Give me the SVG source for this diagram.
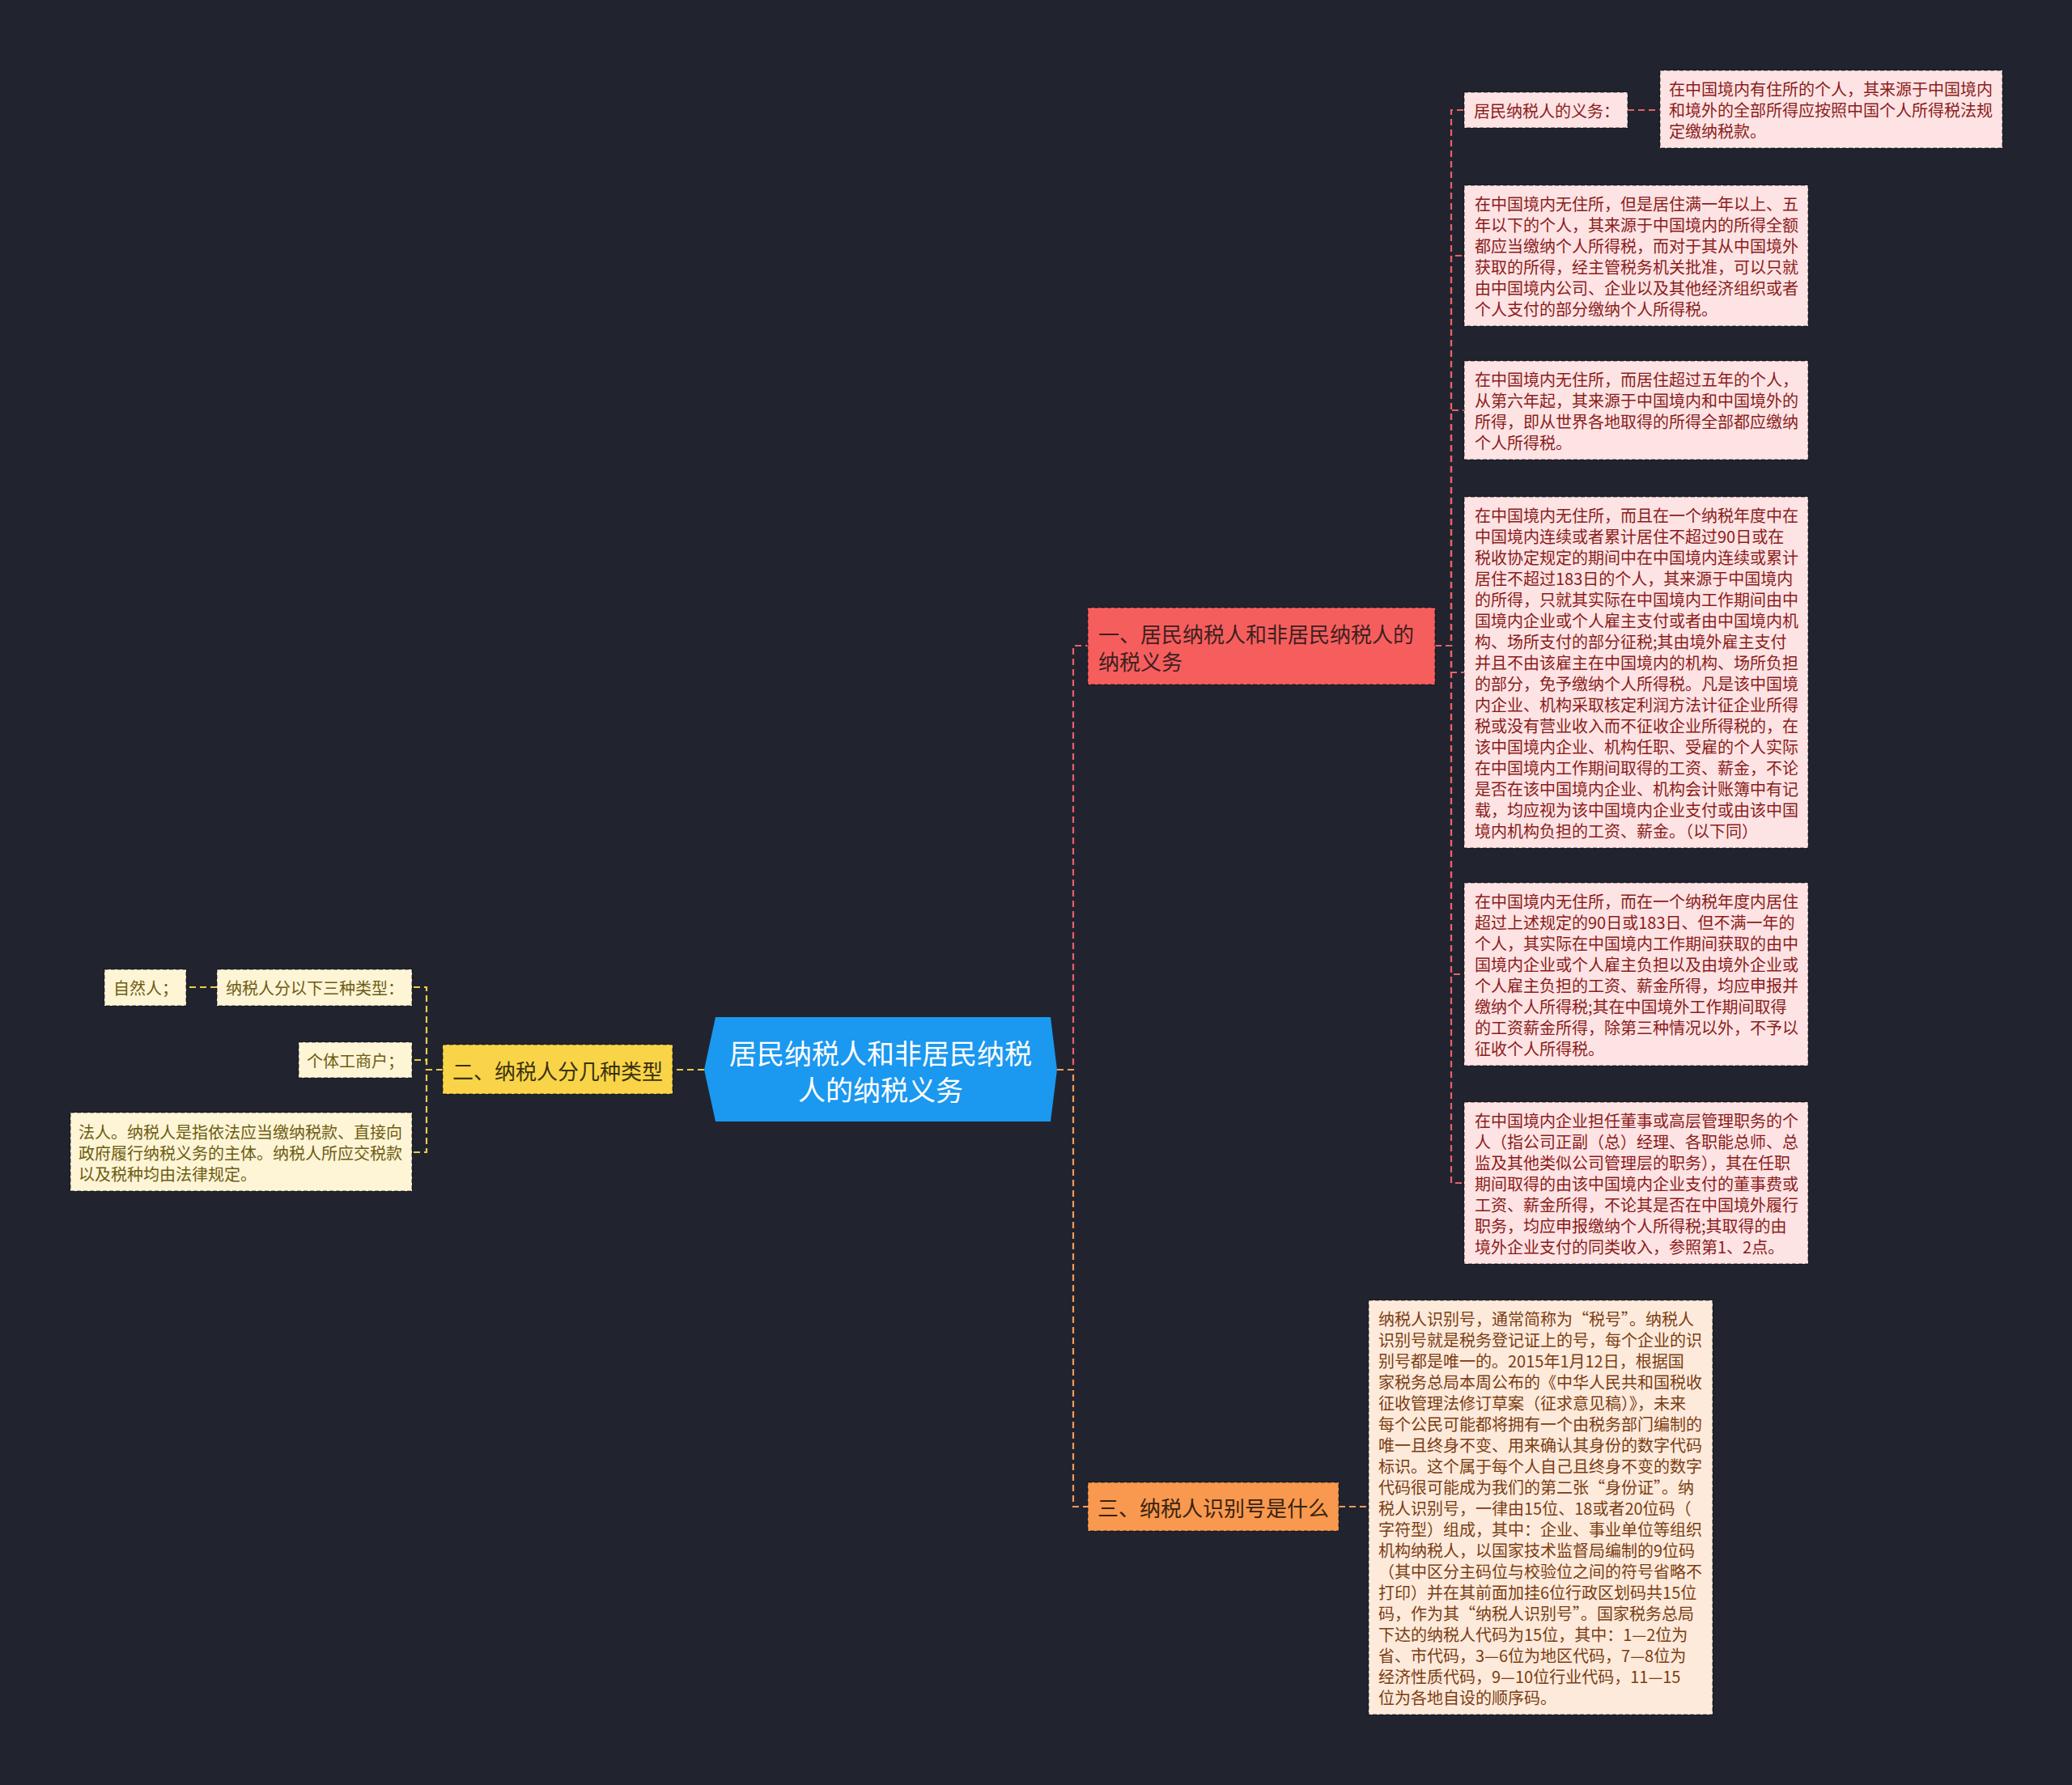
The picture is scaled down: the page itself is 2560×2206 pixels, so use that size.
<svg xmlns="http://www.w3.org/2000/svg" width="2560" height="2206" viewBox="0 0 2560 2206">
<style>
text{font-family:"Noto Sans CJK SC","Noto Sans",sans-serif;dominant-baseline:central}
.box{stroke:#000;stroke-opacity:0.45;stroke-width:1.5;stroke-dasharray:5 3}
.pk{fill:#fde3e3}
.pkt{fill:#8b1c1c;font-size:20px}
.pe{fill:#fdeadb}
.pet{fill:#7b3d12;font-size:20px}
.ye{fill:#fdf5d6}
.yet{fill:#6e5c12;font-size:20px}
.lt{font-size:26px}
.c{fill:none;stroke-width:2.2;stroke-dasharray:8 5}
.cp{stroke:#e8606a}
.co{stroke:#f39a5a}
.cy{stroke:#eccb4a}
</style>
<rect width="2560" height="2206" fill="#21242f"/>
<g id="connectors">
<path class="c cp" d="M1306,1322 H1326 V798 H1344"/>
<path class="c co" d="M1306,1322 H1326 V1862 H1344"/>
<path class="c cy" d="M870,1322 H831"/>
<path class="c cp" d="M1773,798 H1793 V136 H1809"/>
<path class="c cp" d="M1773,798 H1793 V316 H1809"/>
<path class="c cp" d="M1773,798 H1793 V507 H1809"/>
<path class="c cp" d="M1773,798 H1793 V831 H1809"/>
<path class="c cp" d="M1773,798 H1793 V1204 H1809"/>
<path class="c cp" d="M1773,798 H1793 V1462 H1809"/>
<path class="c cp" d="M2011,136 H2051"/>
<path class="c co" d="M1654,1862 H1691"/>
<path class="c cy" d="M547,1322 H527 V1220 H509"/>
<path class="c cy" d="M547,1322 H527 V1310 H509"/>
<path class="c cy" d="M547,1322 H527 V1424 H509"/>
<path class="c cy" d="M268,1220 H230"/>
</g>
<g id="center">
<polygon points="870,1322 884,1257 1298,1257 1306,1322 1298,1386 884,1386" fill="#1b98ef"/>
<text x="1088" y="1300" fill="#ffffff" font-size="34" text-anchor="middle">居民纳税人和非居民纳税</text>
<text x="1088" y="1345" fill="#ffffff" font-size="34" text-anchor="middle">人的纳税义务</text>
</g>
<g id="n1">
<rect class="box" x="1344" y="751" width="429" height="95" fill="#f65e5e"/>
<text class="lt" x="1357" y="782" fill="#3d1f1f">一、居民纳税人和非居民纳税人的</text>
<text class="lt" x="1357" y="816" fill="#3d1f1f">纳税义务</text>
</g>
<g id="n2">
<rect class="box" x="547" y="1291" width="284" height="61" fill="#f9d448"/>
<text class="lt" x="689" y="1322" fill="#3b3210" text-anchor="middle">二、纳税人分几种类型</text>
</g>
<g id="n3">
<rect class="box" x="1344" y="1832" width="310" height="60" fill="#f8994f"/>
<text class="lt" x="1499" y="1862" fill="#3a2210" text-anchor="middle">三、纳税人识别号是什么</text>
</g>
<g id="n1a">
<rect class="box pk" x="1809" y="114" width="202" height="44"/>
<text class="pkt" x="1821" y="136">居民纳税人的义务：</text>
</g>
<g id="n1a1">
<rect class="box pk" x="2051" y="87" width="423" height="96"/>
<text class="pkt" x="2062" y="109">在中国境内有住所的个人，其来源于中国境内</text>
<text class="pkt" x="2062" y="135">和境外的全部所得应按照中国个人所得税法规</text>
<text class="pkt" x="2062" y="161">定缴纳税款。</text>
</g>
<g id="n1b">
<rect class="box pk" x="1809" y="229" width="425" height="174"/>
<text class="pkt" x="1822" y="251">在中国境内无住所，但是居住满一年以上、五</text>
<text class="pkt" x="1822" y="277">年以下的个人，其来源于中国境内的所得全额</text>
<text class="pkt" x="1822" y="303">都应当缴纳个人所得税，而对于其从中国境外</text>
<text class="pkt" x="1822" y="329">获取的所得，经主管税务机关批准，可以只就</text>
<text class="pkt" x="1822" y="355">由中国境内公司、企业以及其他经济组织或者</text>
<text class="pkt" x="1822" y="381">个人支付的部分缴纳个人所得税。</text>
</g>
<g id="n1c">
<rect class="box pk" x="1809" y="446" width="425" height="122"/>
<text class="pkt" x="1822" y="468">在中国境内无住所，而居住超过五年的个人，</text>
<text class="pkt" x="1822" y="494">从第六年起，其来源于中国境内和中国境外的</text>
<text class="pkt" x="1822" y="520">所得，即从世界各地取得的所得全部都应缴纳</text>
<text class="pkt" x="1822" y="546">个人所得税。</text>
</g>
<g id="n1d">
<rect class="box pk" x="1809" y="614" width="425" height="434"/>
<text class="pkt" x="1822" y="636">在中国境内无住所，而且在一个纳税年度中在</text>
<text class="pkt" x="1822" y="662">中国境内连续或者累计居住不超过90日或在</text>
<text class="pkt" x="1822" y="688">税收协定规定的期间中在中国境内连续或累计</text>
<text class="pkt" x="1822" y="714">居住不超过183日的个人，其来源于中国境内</text>
<text class="pkt" x="1822" y="740">的所得，只就其实际在中国境内工作期间由中</text>
<text class="pkt" x="1822" y="766">国境内企业或个人雇主支付或者由中国境内机</text>
<text class="pkt" x="1822" y="792">构、场所支付的部分征税;其由境外雇主支付</text>
<text class="pkt" x="1822" y="818">并且不由该雇主在中国境内的机构、场所负担</text>
<text class="pkt" x="1822" y="844">的部分，免予缴纳个人所得税。凡是该中国境</text>
<text class="pkt" x="1822" y="870">内企业、机构采取核定利润方法计征企业所得</text>
<text class="pkt" x="1822" y="896">税或没有营业收入而不征收企业所得税的，在</text>
<text class="pkt" x="1822" y="922">该中国境内企业、机构任职、受雇的个人实际</text>
<text class="pkt" x="1822" y="948">在中国境内工作期间取得的工资、薪金，不论</text>
<text class="pkt" x="1822" y="974">是否在该中国境内企业、机构会计账簿中有记</text>
<text class="pkt" x="1822" y="1000">载，均应视为该中国境内企业支付或由该中国</text>
<text class="pkt" x="1822" y="1026">境内机构负担的工资、薪金。（以下同）</text>
</g>
<g id="n1e">
<rect class="box pk" x="1809" y="1091" width="425" height="226"/>
<text class="pkt" x="1822" y="1113">在中国境内无住所，而在一个纳税年度内居住</text>
<text class="pkt" x="1822" y="1139">超过上述规定的90日或183日、但不满一年的</text>
<text class="pkt" x="1822" y="1165">个人，其实际在中国境内工作期间获取的由中</text>
<text class="pkt" x="1822" y="1191">国境内企业或个人雇主负担以及由境外企业或</text>
<text class="pkt" x="1822" y="1217">个人雇主负担的工资、薪金所得，均应申报并</text>
<text class="pkt" x="1822" y="1243">缴纳个人所得税;其在中国境外工作期间取得</text>
<text class="pkt" x="1822" y="1269">的工资薪金所得，除第三种情况以外，不予以</text>
<text class="pkt" x="1822" y="1295">征收个人所得税。</text>
</g>
<g id="n1f">
<rect class="box pk" x="1809" y="1362" width="425" height="200"/>
<text class="pkt" x="1822" y="1384">在中国境内企业担任董事或高层管理职务的个</text>
<text class="pkt" x="1822" y="1410">人（指公司正副（总）经理、各职能总师、总</text>
<text class="pkt" x="1822" y="1436">监及其他类似公司管理层的职务），其在任职</text>
<text class="pkt" x="1822" y="1462">期间取得的由该中国境内企业支付的董事费或</text>
<text class="pkt" x="1822" y="1488">工资、薪金所得，不论其是否在中国境外履行</text>
<text class="pkt" x="1822" y="1514">职务，均应申报缴纳个人所得税;其取得的由</text>
<text class="pkt" x="1822" y="1540">境外企业支付的同类收入，参照第1、2点。</text>
</g>
<g id="n3a">
<rect class="box pe" x="1691" y="1607" width="425" height="512"/>
<text class="pet" x="1703" y="1629">纳税人识别号，通常简称为“税号”。纳税人</text>
<text class="pet" x="1703" y="1655">识别号就是税务登记证上的号，每个企业的识</text>
<text class="pet" x="1703" y="1681">别号都是唯一的。2015年1月12日，根据国</text>
<text class="pet" x="1703" y="1707">家税务总局本周公布的《中华人民共和国税收</text>
<text class="pet" x="1703" y="1733">征收管理法修订草案（征求意见稿）》，未来</text>
<text class="pet" x="1703" y="1759">每个公民可能都将拥有一个由税务部门编制的</text>
<text class="pet" x="1703" y="1785">唯一且终身不变、用来确认其身份的数字代码</text>
<text class="pet" x="1703" y="1811">标识。这个属于每个人自己且终身不变的数字</text>
<text class="pet" x="1703" y="1837">代码很可能成为我们的第二张“身份证”。纳</text>
<text class="pet" x="1703" y="1863">税人识别号，一律由15位、18或者20位码（</text>
<text class="pet" x="1703" y="1889">字符型）组成，其中：企业、事业单位等组织</text>
<text class="pet" x="1703" y="1915">机构纳税人，以国家技术监督局编制的9位码</text>
<text class="pet" x="1703" y="1941">（其中区分主码位与校验位之间的符号省略不</text>
<text class="pet" x="1703" y="1967">打印）并在其前面加挂6位行政区划码共15位</text>
<text class="pet" x="1703" y="1993">码，作为其“纳税人识别号”。国家税务总局</text>
<text class="pet" x="1703" y="2019">下达的纳税人代码为15位，其中：1—2位为</text>
<text class="pet" x="1703" y="2045">省、市代码，3—6位为地区代码，7—8位为</text>
<text class="pet" x="1703" y="2071">经济性质代码，9—10位行业代码，11—15</text>
<text class="pet" x="1703" y="2097">位为各地自设的顺序码。</text>
</g>
<g id="n2a">
<rect class="box ye" x="268" y="1198" width="241" height="45"/>
<text class="yet" x="279" y="1220">纳税人分以下三种类型：</text>
</g>
<g id="n2a1">
<rect class="box ye" x="129" y="1198" width="101" height="45"/>
<text class="yet" x="140" y="1220">自然人；</text>
</g>
<g id="n2b">
<rect class="box ye" x="369" y="1288" width="140" height="44"/>
<text class="yet" x="379" y="1310">个体工商户；</text>
</g>
<g id="n2c">
<rect class="box ye" x="87" y="1375" width="422" height="97"/>
<text class="yet" x="97" y="1398">法人。纳税人是指依法应当缴纳税款、直接向</text>
<text class="yet" x="97" y="1424">政府履行纳税义务的主体。纳税人所应交税款</text>
<text class="yet" x="97" y="1450">以及税种均由法律规定。</text>
</g>
</svg>
